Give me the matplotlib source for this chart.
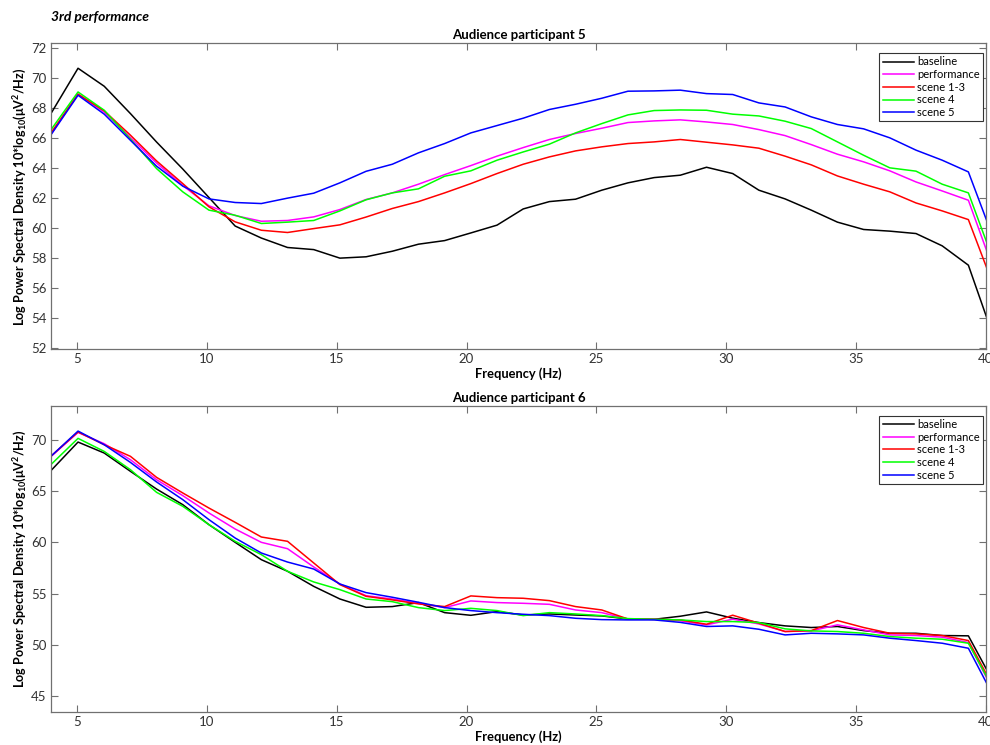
import matplotlib
matplotlib.use("Agg")
import matplotlib.pyplot as plt
import numpy as np

plt.rcParams['font.family'] = ['Lato', 'DejaVu Sans']
plt.rcParams['mathtext.fontset'] = 'custom'
plt.rcParams['mathtext.rm'] = 'Lato:bold'
plt.rcParams['mathtext.it'] = 'Lato:bold:italic'
plt.rcParams['mathtext.bf'] = 'Lato:bold'

# frequency bins (Hz), 4..40 bins at ~1.008 Hz resolution
freqs = np.arange(4, 41) * 1.0083

labels = ['baseline', 'performance', 'scene 1-3', 'scene 4', 'scene 5']
colors = ['#000000', '#ff00ff', '#ff0000', '#00ff00', '#0000ff']

# participant 5
p5_baseline = [67.7, 70.62, 69.42, 67.6, 65.7, 63.9, 62.0, 60.1, 59.3, 58.67, 58.53, 57.96,
               58.05, 58.42, 58.89, 59.13, 59.64, 60.16, 61.24, 61.73, 61.89, 62.49, 62.98,
               63.33, 63.49, 64.02, 63.6, 62.49, 61.91, 61.16, 60.36, 59.87, 59.76, 59.6,
               58.78, 57.49, 52.5]
p5_performance = [66.3, 68.9, 67.7, 66.0, 64.3, 62.8, 61.45, 60.8, 60.42, 60.47, 60.71, 61.2,
                  61.87, 62.31, 62.89, 63.53, 64.13, 64.76, 65.33, 65.87, 66.27, 66.62, 67.0,
                  67.11, 67.18, 67.04, 66.87, 66.53, 66.13, 65.53, 64.89, 64.38, 63.78, 63.04,
                  62.44, 61.82, 57.0]
p5_scene13 = [66.4, 68.89, 67.78, 66.16, 64.44, 62.93, 61.38, 60.38, 59.82, 59.67, 59.93, 60.18,
              60.7, 61.27, 61.73, 62.31, 62.93, 63.6, 64.22, 64.71, 65.11, 65.38, 65.6,
              65.71, 65.87, 65.69, 65.51, 65.29, 64.76, 64.18, 63.44, 62.89, 62.38, 61.64,
              61.11, 60.53, 55.93]
p5_scene4 = [66.6, 69.04, 67.82, 65.9, 63.93, 62.38, 61.16, 60.82, 60.27, 60.36, 60.47, 61.11,
             61.85, 62.31, 62.58, 63.42, 63.78, 64.49, 65.04, 65.56, 66.31, 66.93, 67.51,
             67.8, 67.84, 67.82, 67.56, 67.44, 67.09, 66.6, 65.71, 64.82, 63.98, 63.76,
             62.89, 62.31, 57.6]
p5_scene5 = [66.27, 68.82, 67.56, 65.82, 64.09, 62.76, 61.91, 61.67, 61.6, 61.96, 62.29, 62.98,
             63.75, 64.22, 64.98, 65.6, 66.31, 66.8, 67.29, 67.87, 68.22, 68.62, 69.09,
             69.11, 69.16, 68.93, 68.87, 68.31, 68.04, 67.38, 66.87, 66.58, 65.98, 65.16,
             64.49, 63.71, 59.07]

# participant 6
p6_baseline = [67.08, 69.77, 68.7, 66.92, 65.19, 63.67, 61.72, 60.0, 58.31, 57.18, 55.71, 54.48,
               53.67, 53.74, 54.13, 53.15, 52.89, 53.25, 52.92, 53.02, 52.92, 52.83, 52.53,
               52.5, 52.8, 53.22, 52.61, 52.18, 51.86, 51.7, 51.8, 51.4, 51.14, 51.14,
               50.92, 50.89, 46.18]
p6_performance = [68.44, 70.71, 69.61, 68.05, 66.1, 64.55, 62.86, 61.3, 60.0, 59.38, 57.6, 55.94,
                  54.8, 54.48, 54.06, 53.64, 54.29, 54.13, 54.06, 53.96, 53.41, 53.15, 52.53,
                  52.5, 52.35, 51.96, 52.51, 52.05, 51.31, 51.37, 51.96, 51.47, 50.98, 50.92,
                  50.76, 50.24, 45.3]
p6_scene13 = [68.47, 70.75, 69.51, 68.38, 66.33, 64.81, 63.34, 61.95, 60.52, 60.1, 57.99, 55.88,
              54.74, 54.39, 54.0, 53.74, 54.78, 54.61, 54.55, 54.32, 53.74, 53.41, 52.53,
              52.5, 52.44, 52.02, 52.9, 52.12, 51.31, 51.4, 52.38, 51.7, 51.14, 51.08,
              50.92, 50.43, 45.69]
p6_scene4 = [67.66, 70.13, 68.86, 67.08, 64.87, 63.51, 61.72, 60.1, 58.8, 57.18, 56.14, 55.39,
             54.48, 54.22, 53.64, 53.35, 53.57, 53.35, 52.86, 53.15, 53.02, 52.86, 52.57,
             52.5, 52.44, 52.28, 52.28, 52.18, 51.57, 51.37, 51.31, 51.14, 50.82, 50.66,
             50.56, 50.17, 45.5]
p6_scene5 = [68.47, 70.84, 69.51, 67.79, 65.88, 64.16, 62.21, 60.42, 58.96, 58.08, 57.4, 55.94,
             55.1, 54.65, 54.16, 53.64, 53.35, 53.15, 52.99, 52.86, 52.6, 52.47, 52.44,
             52.44, 52.2, 51.8, 51.86, 51.53, 50.98, 51.14, 51.08, 50.98, 50.66, 50.43,
             50.17, 49.68, 44.8]

panels = [
    ("Audience participant 5",
     [p5_baseline, p5_performance, p5_scene13, p5_scene4, p5_scene5],
     (51.88, 72.28), np.arange(52, 73, 2)),
    ("Audience participant 6",
     [p6_baseline, p6_performance, p6_scene13, p6_scene4, p6_scene5],
     (43.44, 73.31), np.arange(45, 71, 5)),
]

fig = plt.figure(figsize=(9.9, 7.45), dpi=100)
rects = [[0.0515, 0.5311, 0.9444, 0.4107], [0.0515, 0.0439, 0.9444, 0.4115]]

ylabel = r'Log Power Spectral Density 10*log$_{10}$(μV$^2$/Hz)'

for rect, (title, series, ylim, yticks) in zip(rects, panels):
    ax = fig.add_axes(rect)
    for vals, lab, c in zip(series, labels, colors):
        ax.plot(freqs, vals, color=c, lw=1.1, label=lab)
    ax.set_xlim(4, 40)
    ax.set_ylim(*ylim)
    ax.set_xticks([5, 10, 15, 20, 25, 30, 35, 40])
    ax.set_yticks(yticks)
    ax.tick_params(direction='in', top=True, right=True, length=5, width=0.8,
                   color='#707070', labelcolor='#333333', labelsize=9.5, pad=3)
    for s in ax.spines.values():
        s.set_color('#707070')
        s.set_linewidth(0.9)
    ax.set_title(title, fontsize=9.5, fontweight='bold', pad=3)
    ax.set_xlabel('Frequency (Hz)', fontsize=9.3, fontweight='bold', labelpad=1)
    ax.set_ylabel(ylabel, fontsize=9.1, fontweight='bold', labelpad=2)
    leg = ax.legend(loc='upper right', bbox_to_anchor=(0.997, 0.968), fontsize=8,
                    fancybox=False, framealpha=1, edgecolor='#333333',
                    handlelength=2.8, handletextpad=0.3, labelspacing=0.15,
                    borderpad=0.3, borderaxespad=0)
    leg.get_frame().set_linewidth(0.8)

fig.text(0.0515, 0.977, '3rd performance', fontsize=10, fontweight='bold',
         fontstyle='italic', va='center', ha='left')

fig.savefig('out.png', dpi=100)
